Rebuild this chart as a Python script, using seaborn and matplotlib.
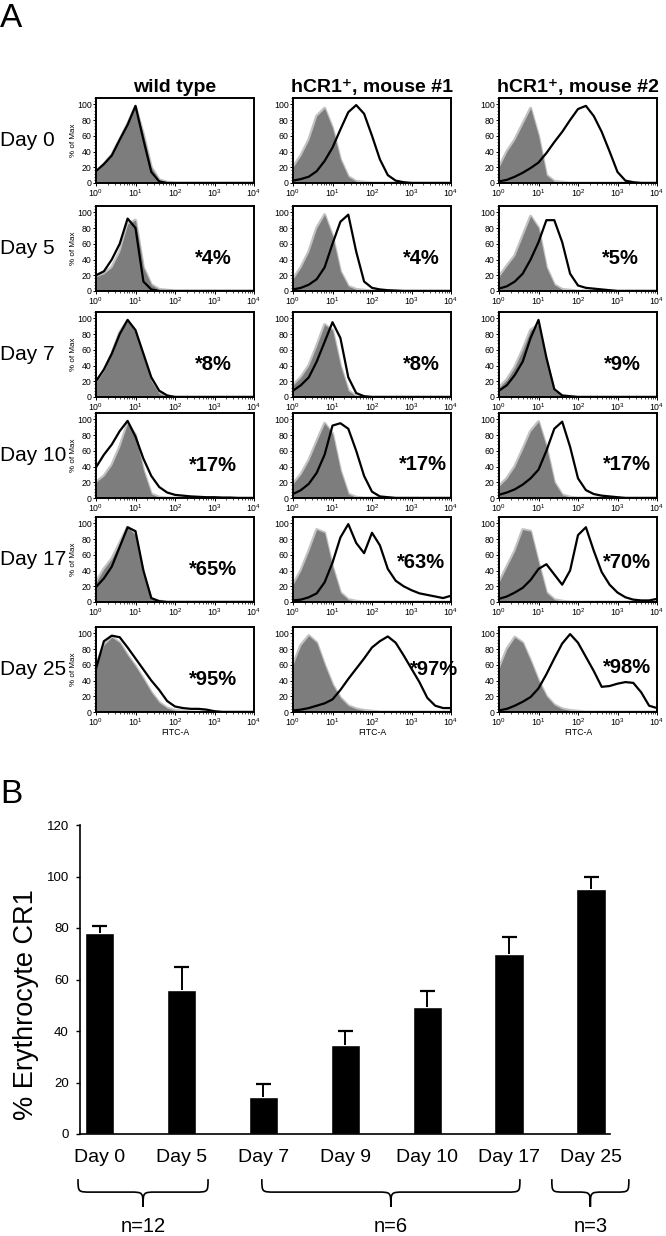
import numpy as np
import pandas as pd
import matplotlib
matplotlib.use("Agg")
import matplotlib.pyplot as plt
import seaborn as sns
from matplotlib.path import Path
from matplotlib.patches import PathPatch
from matplotlib.ticker import MultipleLocator

# ---------------- data ----------------
column_titles = ["wild type", "hCR1\u207a, mouse #1", "hCR1\u207a, mouse #2"]
row_days = ["Day 0", "Day 5", "Day 7", "Day 10", "Day 17", "Day 25"]

# FITC-A channel positions (log10 decades)
log_fitc = [0.0, 0.2, 0.4, 0.6, 0.8, 1.0, 1.2, 1.4, 1.6, 1.8, 2.0,
            2.2, 2.4, 2.6, 2.8, 3.0, 3.2, 3.4, 3.6, 3.8, 4.0]

# wild type: control (grey filled) and anti-CR1 (black line), % of max
wt_d0_ctrl = [14, 24, 36, 55, 75, 97, 62, 20, 4, 1, 0, 0, 0, 0, 0, 0, 0, 0, 0, 0, 0]
wt_d0_cr1 = [15, 24, 35, 55, 74, 98, 55, 14, 2, 0, 0, 0, 0, 0, 0, 0, 0, 0, 0, 0, 0]
wt_d5_ctrl = [18, 22, 30, 50, 85, 90, 30, 8, 2, 1, 0, 0, 0, 0, 0, 0, 0, 0, 0, 0, 0]
wt_d5_cr1 = [20, 25, 40, 60, 92, 80, 12, 2, 0, 0, 0, 0, 0, 0, 0, 0, 0, 0, 0, 0, 0]
wt_d7_ctrl = [18, 33, 55, 82, 97, 82, 52, 20, 4, 1, 0, 0, 0, 0, 0, 0, 0, 0, 0, 0, 0]
wt_d7_cr1 = [20, 35, 55, 80, 98, 85, 55, 25, 8, 2, 0, 0, 0, 0, 0, 0, 0, 0, 0, 0, 0]
wt_d10_ctrl = [20, 28, 42, 65, 95, 80, 35, 5, 1, 0, 0, 0, 0, 0, 0, 0, 0, 0, 0, 0, 0]
wt_d10_cr1 = [39, 55, 68, 85, 98, 78, 50, 28, 14, 7, 4, 3, 2, 1.5, 1, 1, 0.5, 0.5, 0, 0, 0]
wt_d17_ctrl = [25, 42, 55, 75, 95, 85, 35, 4, 1, 0, 0, 0, 0, 0, 0, 0, 0, 0, 0, 0, 0]
wt_d17_cr1 = [19, 30, 45, 70, 95, 90, 40, 5, 1, 0, 0, 0, 0, 0, 0, 0, 0, 0, 0, 0, 0]
wt_d25_ctrl = [58, 85, 95, 88, 72, 58, 42, 25, 12, 5, 2, 1, 0, 0, 0, 0, 0, 0, 0, 0, 0]
wt_d25_cr1 = [55, 90, 97, 95, 82, 68, 54, 40, 28, 14, 7, 5, 4, 4, 3, 1, 0, 0, 0, 0, 0]

# hCR1+ mouse #1
m1_d0_ctrl = [20, 35, 55, 85, 95, 70, 30, 8, 2, 1, 0, 0, 0, 0, 0, 0, 0, 0, 0, 0, 0]
m1_d0_cr1 = [3, 5, 8, 15, 28, 45, 68, 90, 99, 88, 60, 30, 10, 3, 1, 0, 0, 0, 0, 0, 0]
m1_d5_ctrl = [15, 30, 50, 80, 97, 70, 25, 6, 2, 1, 0, 0, 0, 0, 0, 0, 0, 0, 0, 0, 0]
m1_d5_cr1 = [2, 4, 8, 15, 30, 60, 88, 97, 50, 12, 4, 2, 1, 0.5, 0, 0, 0, 0, 0, 0, 0]
m1_d7_ctrl = [15, 25, 40, 65, 92, 85, 40, 8, 1, 0, 0, 0, 0, 0, 0, 0, 0, 0, 0, 0, 0]
m1_d7_cr1 = [8, 15, 25, 45, 70, 95, 75, 25, 5, 1, 0, 0, 0, 0, 0, 0, 0, 0, 0, 0, 0]
m1_d10_ctrl = [18, 30, 48, 72, 95, 82, 35, 5, 1, 0, 0, 0, 0, 0, 0, 0, 0, 0, 0, 0, 0]
m1_d10_cr1 = [5, 10, 18, 32, 55, 92, 95, 88, 60, 28, 8, 2, 1, 0, 0, 0, 0, 0, 0, 0, 0]
m1_d17_ctrl = [22, 40, 65, 92, 88, 45, 12, 3, 1, 0, 0, 0, 0, 0, 0, 0, 0, 0, 0, 0, 0]
m1_d17_cr1 = [2, 3, 6, 11, 25, 50, 82, 99, 75, 62, 88, 72, 42, 27, 20, 15, 11, 9, 7, 5, 8]
m1_d25_ctrl = [60, 85, 97, 88, 60, 35, 18, 8, 4, 2, 1, 0, 0, 0, 0, 0, 0, 0, 0, 0, 0]
m1_d25_cr1 = [2, 3, 5, 8, 11, 16, 28, 42, 55, 68, 82, 90, 96, 88, 72, 55, 38, 18, 8, 5, 5]

# hCR1+ mouse #2
m2_d0_ctrl = [20, 40, 55, 75, 95, 60, 10, 2, 1, 0, 0, 0, 0, 0, 0, 0, 0, 0, 0, 0, 0]
m2_d0_cr1 = [2, 4, 8, 13, 19, 26, 38, 52, 65, 80, 94, 98, 85, 65, 40, 14, 3, 1, 0, 0, 0]
m2_d5_ctrl = [18, 32, 45, 70, 95, 80, 30, 8, 2, 1, 0, 0, 0, 0, 0, 0, 0, 0, 0, 0, 0]
m2_d5_cr1 = [3, 6, 12, 22, 40, 62, 90, 90, 62, 22, 7, 4, 3, 2, 1, 0, 0, 0, 0, 0, 0]
m2_d7_ctrl = [12, 22, 38, 60, 85, 92, 45, 8, 1, 0, 0, 0, 0, 0, 0, 0, 0, 0, 0, 0, 0]
m2_d7_cr1 = [8, 15, 28, 45, 75, 98, 50, 10, 2, 1, 0, 0, 0, 0, 0, 0, 0, 0, 0, 0, 0]
m2_d10_ctrl = [15, 25, 40, 62, 85, 97, 65, 20, 4, 1, 0, 0, 0, 0, 0, 0, 0, 0, 0, 0, 0]
m2_d10_cr1 = [4, 7, 11, 17, 25, 36, 60, 88, 97, 65, 25, 10, 5, 3, 2, 1, 0, 0, 0, 0, 0]
m2_d17_ctrl = [25, 45, 65, 92, 90, 50, 12, 3, 1, 0, 0, 0, 0, 0, 0, 0, 0, 0, 0, 0, 0]
m2_d17_cr1 = [4, 7, 12, 18, 28, 42, 48, 35, 22, 40, 85, 95, 65, 38, 22, 12, 6, 3, 2, 2, 4]
m2_d25_ctrl = [55, 80, 95, 88, 65, 40, 20, 9, 4, 2, 1, 0, 0, 0, 0, 0, 0, 0, 0, 0, 0]
m2_d25_cr1 = [2, 4, 8, 13, 19, 30, 48, 68, 87, 99, 88, 70, 52, 32, 33, 36, 38, 37, 25, 8, 5]

# percent labels per column (rows Day 0..Day 25)
wt_pct = ["", "*4%", "*8%", "*17%", "*65%", "*95%"]
m1_pct = ["", "*4%", "*8%", "*17%", "*63%", "*97%"]
m2_pct = ["", "*5%", "*9%", "*17%", "*70%", "*98%"]

# panel B
bar_days = ["Day 0", "Day 5", "Day 7", "Day 9", "Day 10", "Day 17", "Day 25"]
cr1_mean = [78, 56, 14.5, 34.5, 49.5, 70, 95]
cr1_sem = [2.8, 9, 5, 5.5, 6, 6.5, 4.8]
group_labels = ["n=12", "n=6", "n=3"]

# ---------------- tables built from the data ----------------
ctrl_table = [[wt_d0_ctrl, wt_d5_ctrl, wt_d7_ctrl, wt_d10_ctrl, wt_d17_ctrl, wt_d25_ctrl],
              [m1_d0_ctrl, m1_d5_ctrl, m1_d7_ctrl, m1_d10_ctrl, m1_d17_ctrl, m1_d25_ctrl],
              [m2_d0_ctrl, m2_d5_ctrl, m2_d7_ctrl, m2_d10_ctrl, m2_d17_ctrl, m2_d25_ctrl]]
cr1_table = [[wt_d0_cr1, wt_d5_cr1, wt_d7_cr1, wt_d10_cr1, wt_d17_cr1, wt_d25_cr1],
             [m1_d0_cr1, m1_d5_cr1, m1_d7_cr1, m1_d10_cr1, m1_d17_cr1, m1_d25_cr1],
             [m2_d0_cr1, m2_d5_cr1, m2_d7_cr1, m2_d10_cr1, m2_d17_cr1, m2_d25_cr1]]
pct_table = [wt_pct, m1_pct, m2_pct]

# ---------------- style ----------------
sns.set_style("ticks", {"axes.edgecolor": "black", "xtick.color": "black",
                        "ytick.color": "black", "text.color": "black",
                        "axes.labelcolor": "black"})
plt.rcParams["font.family"] = ["Liberation Sans", "DejaVu Sans"]
plt.rcParams["mathtext.fontset"] = "custom"
plt.rcParams["mathtext.rm"] = "Liberation Sans"

W, H = 666, 1236
fig = plt.figure(figsize=(W / 100, H / 100), dpi=100)


def px_axes(left, top, w, h):
    return fig.add_axes([left / W, 1 - (top + h) / H, w / W, h / H])


# ---------------- panel A layout ----------------
col_left = [96, 293, 499]
col_w = 158
row_top = [98, 206, 312, 413, 517, 627]
row_h = 85
pct_pos = [
    [(0.74, 0.38)] * 6,
    [(0.81, 0.38), (0.81, 0.38), (0.81, 0.38), (0.82, 0.40), (0.81, 0.47), (0.89, 0.50)],
    [(0.78, 0.38), (0.77, 0.38), (0.78, 0.38), (0.81, 0.40), (0.81, 0.47), (0.81, 0.52)],
]

fitc = 10 ** np.array(log_fitc)

fig.text(0, 1 - 27 / H, "A", fontsize=24, va="baseline", ha="left")

for c in range(3):
    fig.text((col_left[c] + col_w / 2) / W, 1 - 92 / H, column_titles[c],
             ha="center", va="baseline", fontsize=14, fontweight="bold")
    for r in range(6):
        ax = px_axes(col_left[c], row_top[r], col_w, row_h)
        ctrl = np.array(ctrl_table[c][r], dtype=float)
        cr1 = np.array(cr1_table[c][r], dtype=float)
        ax.plot(fitc, ctrl, color="#c2c2c2", lw=2.2, zorder=1)
        ax.fill_between(fitc, 0, ctrl, color="#7d7d7d", lw=0, zorder=2)
        sns.lineplot(x=fitc, y=cr1, ax=ax, color="black", lw=1.6,
                     sort=False, estimator=None, zorder=3)
        ax.set_xscale("log")
        ax.set_xlim(1, 1e4)
        ax.set_ylim(0, 108)
        ax.set_xticks([1, 10, 100, 1000, 10000])
        ax.set_yticks([0, 20, 40, 60, 80, 100])
        ax.yaxis.set_minor_locator(MultipleLocator(4))
        ax.tick_params(which="major", labelsize=6.3, length=2, width=0.7, pad=1,
                       direction="out")
        ax.tick_params(which="minor", length=1.2, width=0.5, direction="out")
        for s in ax.spines.values():
            s.set_visible(True)
            s.set_linewidth(1.4)
        ax.set_xlabel("FITC-A" if r == 5 else "", fontsize=6.3, labelpad=0)
        ax.set_ylabel("% of Max" if c == 0 else "", fontsize=5.8, labelpad=0)
        lab = pct_table[c][r]
        if lab:
            px, py = pct_pos[c][r]
            ax.text(px, py, lab, transform=ax.transAxes, ha="center", va="center",
                    fontsize=14.5, fontweight="bold", clip_on=False, zorder=5)
        if c == 0:
            fig.text(0, 1 - (row_top[r] + row_h / 2) / H, row_days[r],
                     ha="left", va="center", fontsize=15)

# ---------------- panel B ----------------
fig.text(0, 1 - 803 / H, "B", fontsize=24, va="baseline", ha="left")

bax = px_axes(80, 825, 530, 309)
df = pd.DataFrame({"day": bar_days, "pct": cr1_mean})
sns.barplot(data=df, x="day", y="pct", order=bar_days, color="black",
            saturation=1, width=0.36, errorbar=None, ax=bax, zorder=2)
pos = np.arange(len(bar_days))
mean_arr = np.array(cr1_mean, dtype=float)
top_arr = mean_arr + np.array(cr1_sem, dtype=float)
bax.vlines(pos, mean_arr, top_arr, color="black", lw=1.4, zorder=3)
bax.hlines(top_arr, pos - 0.09, pos + 0.09, color="black", lw=1.6, zorder=3)
bax.set_xlim(-0.24, 6.23)
bax.set_ylim(0, 120)
bax.set_yticks([0, 20, 40, 60, 80, 100, 120])
sns.despine(ax=bax)
bax.spines["left"].set_linewidth(1.2)
bax.spines["bottom"].set_linewidth(1.2)
bax.tick_params(axis="x", length=0, pad=11, labelsize=14)
bax.tick_params(axis="y", length=3, width=1, pad=5, labelsize=9.5)
bax.set_xlabel("")
bax.set_ylabel("% Erythrocyte CR1", fontsize=19.5, color="black")
bax.yaxis.set_label_coords(-0.077, 0.42)

# group braces with n labels
brace_spans = [(-0.264, 1.323), (1.98, 5.13), (5.52, 6.46)]
y_top, y_mid, y_tip, y_lab = -0.146, -0.188, -0.236, -0.300
r_curl = 0.16
trans = bax.get_xaxis_transform()
for (x0, x1), lab in zip(brace_spans, group_labels):
    xc = (x0 + x1) / 2
    verts = [(x0, y_top), (x0, y_mid), (x0, y_mid), (x0 + r_curl, y_mid),
             (xc - r_curl, y_mid),
             (xc, y_mid), (xc, y_mid), (xc, y_tip),
             (xc, y_mid), (xc, y_mid), (xc + r_curl, y_mid),
             (x1 - r_curl, y_mid),
             (x1, y_mid), (x1, y_mid), (x1, y_top)]
    codes = [Path.MOVETO, Path.CURVE4, Path.CURVE4, Path.CURVE4,
             Path.LINETO,
             Path.CURVE4, Path.CURVE4, Path.CURVE4,
             Path.CURVE4, Path.CURVE4, Path.CURVE4,
             Path.LINETO,
             Path.CURVE4, Path.CURVE4, Path.CURVE4]
    bax.add_patch(PathPatch(Path(verts, codes), transform=trans, fill=False,
                            lw=1.2, edgecolor="black", clip_on=False))
    bax.text(xc, y_lab, lab, transform=trans, ha="center", va="center",
             fontsize=14.5, clip_on=False)

fig.savefig("out.png", dpi=100)
